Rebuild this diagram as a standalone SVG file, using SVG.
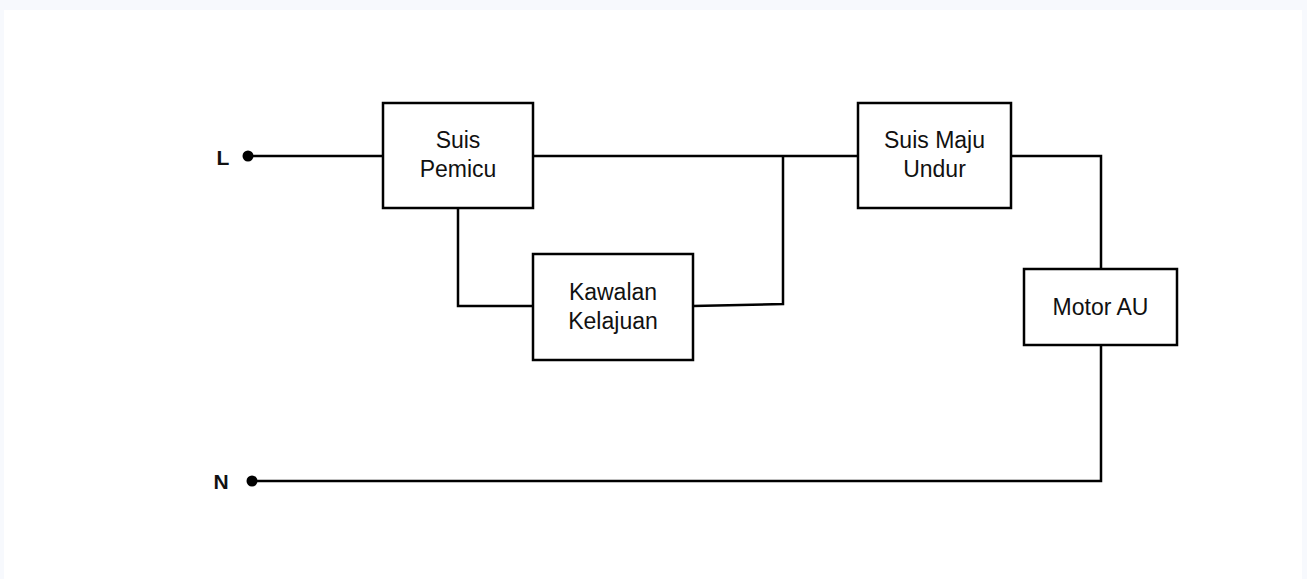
<svg xmlns="http://www.w3.org/2000/svg" width="1307" height="579" viewBox="0 0 1307 579">
  <style>
    .box { fill: #ffffff; stroke: #000000; stroke-width: 2.5; }
    .wire { fill: none; stroke: #000000; stroke-width: 2.5; }
    .lbl { font-family: "Liberation Sans", Arial, sans-serif; font-size: 23px; fill: #111111; text-anchor: middle; }
    .term { font-family: "Liberation Sans", Arial, sans-serif; font-size: 21px; font-weight: bold; fill: #111111; text-anchor: middle; }
  </style>

  <!-- page background with faint frame -->
  <rect x="0" y="0" width="1307" height="579" fill="#f7f9fd"/>
  <rect x="4" y="10" width="1298" height="569" fill="#ffffff"/>

  <!-- wiring -->
  <g id="connectors">
    <path class="wire" d="M248 156 H383"/>
    <path class="wire" d="M533 156 H858"/>
    <path class="wire" d="M458 208 V306 H533"/>
    <path class="wire" d="M693 306 L783 304 V156"/>
    <path class="wire" d="M1011 156 H1101 V269"/>
    <path class="wire" d="M1101 345 V481 H252"/>
  </g>

  <!-- supply terminals -->
  <g id="terminal-L">
    <circle cx="248" cy="156" r="5.5" fill="#000000"/>
    <text class="term" x="223" y="165">L</text>
  </g>
  <g id="terminal-N">
    <circle cx="252" cy="481" r="5.5" fill="#000000"/>
    <text class="term" x="221" y="489">N</text>
  </g>

  <g id="suis-pemicu">
    <rect class="box" x="383" y="103" width="150" height="105"/>
    <text class="lbl" x="458" y="148">Suis</text>
    <text class="lbl" x="458" y="177">Pemicu</text>
  </g>

  <g id="kawalan-kelajuan">
    <rect class="box" x="533" y="254" width="160" height="106"/>
    <text class="lbl" x="613" y="300">Kawalan</text>
    <text class="lbl" x="613" y="329">Kelajuan</text>
  </g>

  <g id="suis-maju-undur">
    <rect class="box" x="858" y="103" width="153" height="105"/>
    <text class="lbl" x="934.5" y="148">Suis Maju</text>
    <text class="lbl" x="934.5" y="177">Undur</text>
  </g>

  <g id="motor-au">
    <rect class="box" x="1024" y="269" width="153" height="76"/>
    <text class="lbl" x="1100.5" y="315">Motor AU</text>
  </g>
</svg>
